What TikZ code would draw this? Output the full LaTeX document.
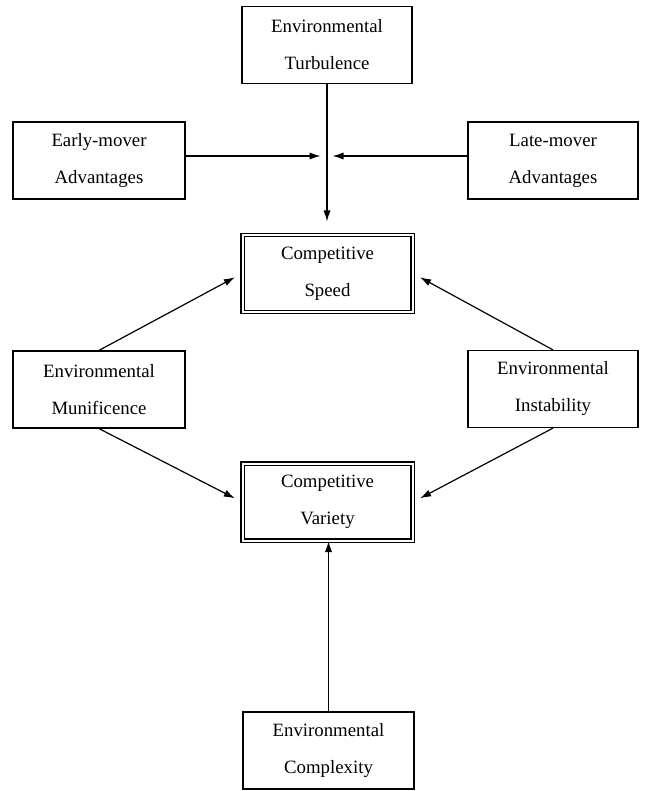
\documentclass[tikz,border=0pt]{standalone}
\usepackage{fontspec}
\setmainfont{Liberation Serif}
\usetikzlibrary{
  arrows.meta,
}

\begin{document}
\begin{tikzpicture}[
  x=0.5pt, y=-0.5pt,
  every factor/.style={draw, line width=0.6pt, rectangle, align=center, inner sep=0pt,
    minimum height=38.5pt, font=\fontsize{9.4}{18.5}\selectfont},
  factor/.style={every factor, minimum width=#1},
  outcome/.style={every factor, minimum width=85pt, double, double distance=1pt, line width=0.55pt},
  link/.style={line width=0.6pt, -{Latex[length=5.5pt, width=3.6pt]}},
]
\useasboundingbox (0,0) rectangle (645,791);

% outcomes
\node[outcome] (speed) at (327.5,273.5) {Competitive\\Speed};
\node[outcome] (variety) at (327.5,502) {Competitive\\Variety};

% antecedents
\node[factor=85pt] (turb) at (327,45) {Environmental\\Turbulence};
\node[factor=86pt] (early) at (99,160.5) {Early-mover\\Advantages};
\node[factor=85pt] (late) at (553,160.5) {Late-mover\\Advantages};
\node[factor=86pt] (munif) at (99,389.5) {Environmental\\Munificence};
\node[factor=85pt] (instab) at (553,389) {Environmental\\Instability};
\node[factor=85.5pt] (complex) at (328.5,750.5) {Environmental\\Complexity};

\coordinate (junc) at (326.5,156);

\draw[link, shorten >=6.5pt] (turb.south) -- (turb.south |- speed.north);
\draw[link, shorten >=3pt] (early.east |- junc) -- (junc);
\draw[link, shorten >=3pt] (late.west |- junc) -- (junc);
\foreach \from/\to in {munif.north/speed.west, instab.north/speed.east, munif.south/variety.west, instab.south/variety.east}
  \draw[link, shorten >=4pt] (\from) -- (\to);
\draw[link] (complex.north) -- (complex.north |- variety.south);
\end{tikzpicture}
\end{document}
